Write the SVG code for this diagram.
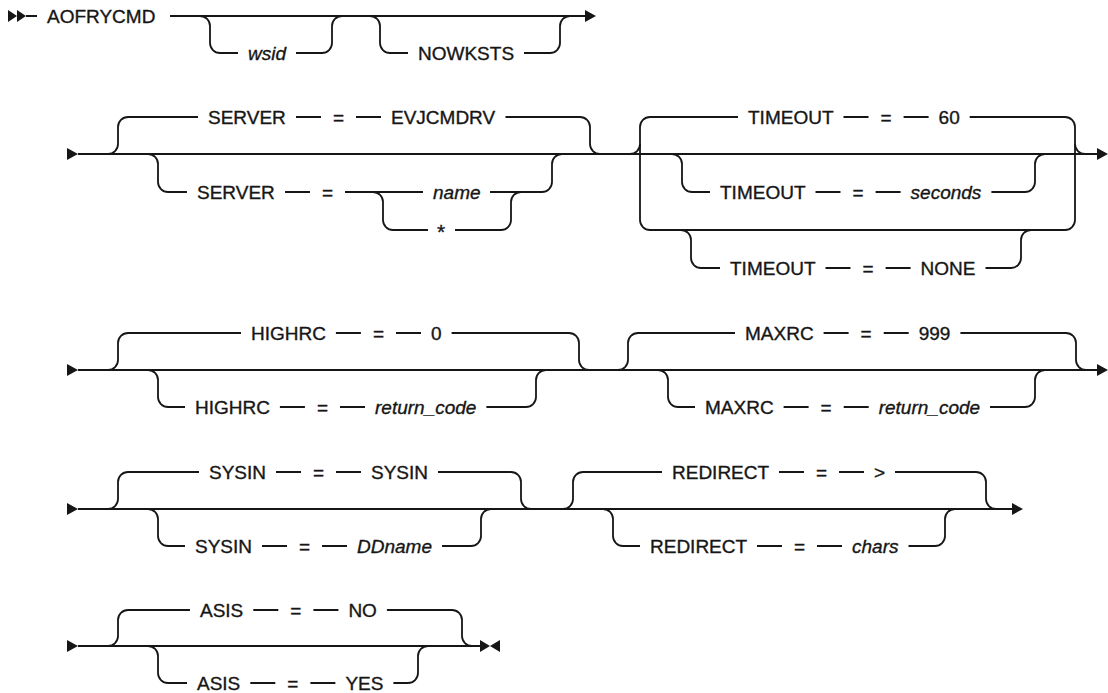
<svg xmlns="http://www.w3.org/2000/svg" width="1108" height="693" viewBox="0 0 1108 693">
<style>
.l{fill:none;stroke:#161616;stroke-width:1.8}
.a{fill:#161616;stroke:none}
text{font-family:"Liberation Sans",Arial,sans-serif;font-size:19px;fill:#161616;stroke:#161616;stroke-width:0.35}
.i{font-style:italic}
</style>
<rect width="1108" height="693" fill="#fff"/>
<g id="connectors">
<polygon class="a" points="8,10 17,16 8,22"/><polygon class="a" points="17,10 26,16 17,22"/>
<path class="l" d="M26,16H37M170,16H586"/>
<polygon class="a" points="585,10 596,16 585,22"/>
<path class="l" d="M200,16A10 10 0 0 1 210,26V43A10 10 0 0 0 220,53H238M296,53H322A10 10 0 0 0 332,43V26A10 10 0 0 1 342,16"/>
<path class="l" d="M370,16A10 10 0 0 1 380,26V43A10 10 0 0 0 390,53H408M524,53H550A10 10 0 0 0 560,43V26A10 10 0 0 1 570,16"/>
<polygon class="a" points="67,148 78,154 67,160"/>
<path class="l" d="M78,154H1098"/>
<polygon class="a" points="1097,148 1108,154 1097,160"/>
<path class="l" d="M108,154A10 10 0 0 0 118,144V127A10 10 0 0 1 128,117H198M296,117H321M356,117H381M505.5,117H580A10 10 0 0 1 590,127V144A10 10 0 0 0 600,154"/>
<path class="l" d="M148,154A10 10 0 0 1 158,164V182A10 10 0 0 0 168,192H187M285,192H310M345,192H423M490,192H542A10 10 0 0 0 552,182V164A10 10 0 0 1 562,154"/>
<path class="l" d="M373,192A10 10 0 0 1 383,202V220A10 10 0 0 0 393,230H428M455,230H501A10 10 0 0 0 511,220V202A10 10 0 0 1 521,192"/>
<path class="l" d="M630,154A10 10 0 0 0 640,144V127A10 10 0 0 1 650,117H738M843.5,117H868.5M903.6,117H928.6M969.7,117H1065A10 10 0 0 1 1075,127V144A10 10 0 0 0 1085,154"/>
<path class="l" d="M640,144V220A10 10 0 0 0 650,230H1065A10 10 0 0 0 1075,220V144"/>
<path class="l" d="M672,154A10 10 0 0 1 682,164V182A10 10 0 0 0 692,192H710M815.5,192H840.5M875.6,192H900.6M991.4,192H1025A10 10 0 0 0 1035,182V164A10 10 0 0 1 1045,154"/>
<path class="l" d="M681,230A10 10 0 0 1 691,240V258A10 10 0 0 0 701,268H720M825.5,268H850.5M885.6,268H910.6M985.5,268H1011A10 10 0 0 0 1021,258V240A10 10 0 0 1 1031,230"/>
<polygon class="a" points="67,364 78,370 67,376"/>
<path class="l" d="M78,370H1098"/>
<polygon class="a" points="1097,364 1108,370 1097,376"/>
<path class="l" d="M108,370A10 10 0 0 0 118,360V343A10 10 0 0 1 128,333H241M335.9,333H360.9M396,333H421M451.6,333H569A10 10 0 0 1 579,343V360A10 10 0 0 0 589,370"/>
<path class="l" d="M148,370A10 10 0 0 1 158,380V397A10 10 0 0 0 168,407H185M279.9,407H304.9M340,407H365M486.4,407H526A10 10 0 0 0 536,397V380A10 10 0 0 1 546,370"/>
<path class="l" d="M618,370A10 10 0 0 0 628,360V343A10 10 0 0 1 638,333H735M823.6,333H848.6M883.7,333H908.7M960.4,333H1066A10 10 0 0 1 1076,343V360A10 10 0 0 0 1086,370"/>
<path class="l" d="M658,370A10 10 0 0 1 668,380V397A10 10 0 0 0 678,407H695M783.6,407H808.6M843.7,407H868.7M990,407H1025A10 10 0 0 0 1035,397V380A10 10 0 0 1 1045,370"/>
<polygon class="a" points="67,503 78,509 67,515"/>
<path class="l" d="M78,509H1013"/>
<polygon class="a" points="1012,503 1023,509 1012,515"/>
<path class="l" d="M108,509A10 10 0 0 0 118,499V482A10 10 0 0 1 128,472H199M276,472H301M336,472H361M438,472H511A10 10 0 0 1 521,482V499A10 10 0 0 0 531,509"/>
<path class="l" d="M148,509A10 10 0 0 1 158,519V536A10 10 0 0 0 168,546H185M262,546H287M322,546H347M442,546H471A10 10 0 0 0 481,536V519A10 10 0 0 1 491,509"/>
<path class="l" d="M563,509A10 10 0 0 0 573,499V482A10 10 0 0 1 583,472H662M779,472H804M839,472H864M895,472H976A10 10 0 0 1 986,482V499A10 10 0 0 0 996,509"/>
<path class="l" d="M603,509A10 10 0 0 1 613,519V536A10 10 0 0 0 623,546H640M757,546H782M817,546H842M908.5,546H935A10 10 0 0 0 945,536V519A10 10 0 0 1 955,509"/>
<polygon class="a" points="67,640 78,646 67,652"/>
<path class="l" d="M78,646H481"/>
<polygon class="a" points="480,640 490,646 480,652"/><polygon class="a" points="500,640 490,646 500,652"/>
<path class="l" d="M108,646A10 10 0 0 0 118,636V620A10 10 0 0 1 128,610H190M253.3,610H278.3M313.4,610H338.4M386.9,610H452A10 10 0 0 1 462,620V636A10 10 0 0 0 472,646"/>
<path class="l" d="M148,646A10 10 0 0 1 158,656V673A10 10 0 0 0 168,683H187M250.3,683H275.3M310.4,683H335.4M393.4,683H408A10 10 0 0 0 418,673V656A10 10 0 0 1 428,646"/>
</g>
<g id="n-aofrycmd"><text x="47" y="23">AOFRYCMD</text></g>
<g id="n-wsid"><text class="i" x="248" y="60">wsid</text></g>
<g id="n-nowksts"><text x="418" y="60">NOWKSTS</text></g>
<g id="n-server-default"><text x="208" y="124">SERVER</text><text x="333" y="124">=</text><text x="391" y="124">EVJCMDRV</text></g>
<g id="n-server"><text x="197" y="199">SERVER</text><text x="322" y="199">=</text></g>
<g id="n-name"><text class="i" x="433" y="199">name</text></g>
<g id="n-star"><text x="437" y="239" style="font-size:21px">*</text></g>
<g id="n-timeout-default"><text x="748" y="124">TIMEOUT</text><text x="880.5" y="124">=</text><text x="938.6" y="124">60</text></g>
<g id="n-timeout-seconds"><text x="720" y="199">TIMEOUT</text><text x="852.5" y="199">=</text><text class="i" x="910.6" y="199">seconds</text></g>
<g id="n-timeout-none"><text x="730" y="275">TIMEOUT</text><text x="862.5" y="275">=</text><text x="920.6" y="275">NONE</text></g>
<g id="n-highrc-default"><text x="251" y="340">HIGHRC</text><text x="372.9" y="340">=</text><text x="431" y="340">0</text></g>
<g id="n-highrc"><text x="195" y="414">HIGHRC</text><text x="316.9" y="414">=</text><text class="i" x="375" y="414">return_code</text></g>
<g id="n-maxrc-default"><text x="745" y="340">MAXRC</text><text x="860.6" y="340">=</text><text x="918.7" y="340">999</text></g>
<g id="n-maxrc"><text x="705" y="414">MAXRC</text><text x="820.6" y="414">=</text><text class="i" x="878.7" y="414">return_code</text></g>
<g id="n-sysin-default"><text x="209" y="479">SYSIN</text><text x="313" y="479">=</text><text x="371" y="479">SYSIN</text></g>
<g id="n-sysin"><text x="195" y="553">SYSIN</text><text x="299" y="553">=</text><text class="i" x="357" y="553">DDname</text></g>
<g id="n-redirect-default"><text x="672" y="479">REDIRECT</text><text x="816" y="479">=</text><text x="874" y="479">&gt;</text></g>
<g id="n-redirect"><text x="650" y="553">REDIRECT</text><text x="794" y="553">=</text><text class="i" x="852" y="553">chars</text></g>
<g id="n-asis-default"><text x="200" y="617">ASIS</text><text x="290.3" y="617">=</text><text x="348.4" y="617">NO</text></g>
<g id="n-asis"><text x="197" y="690">ASIS</text><text x="287.3" y="690">=</text><text x="345.4" y="690">YES</text></g>
</svg>
